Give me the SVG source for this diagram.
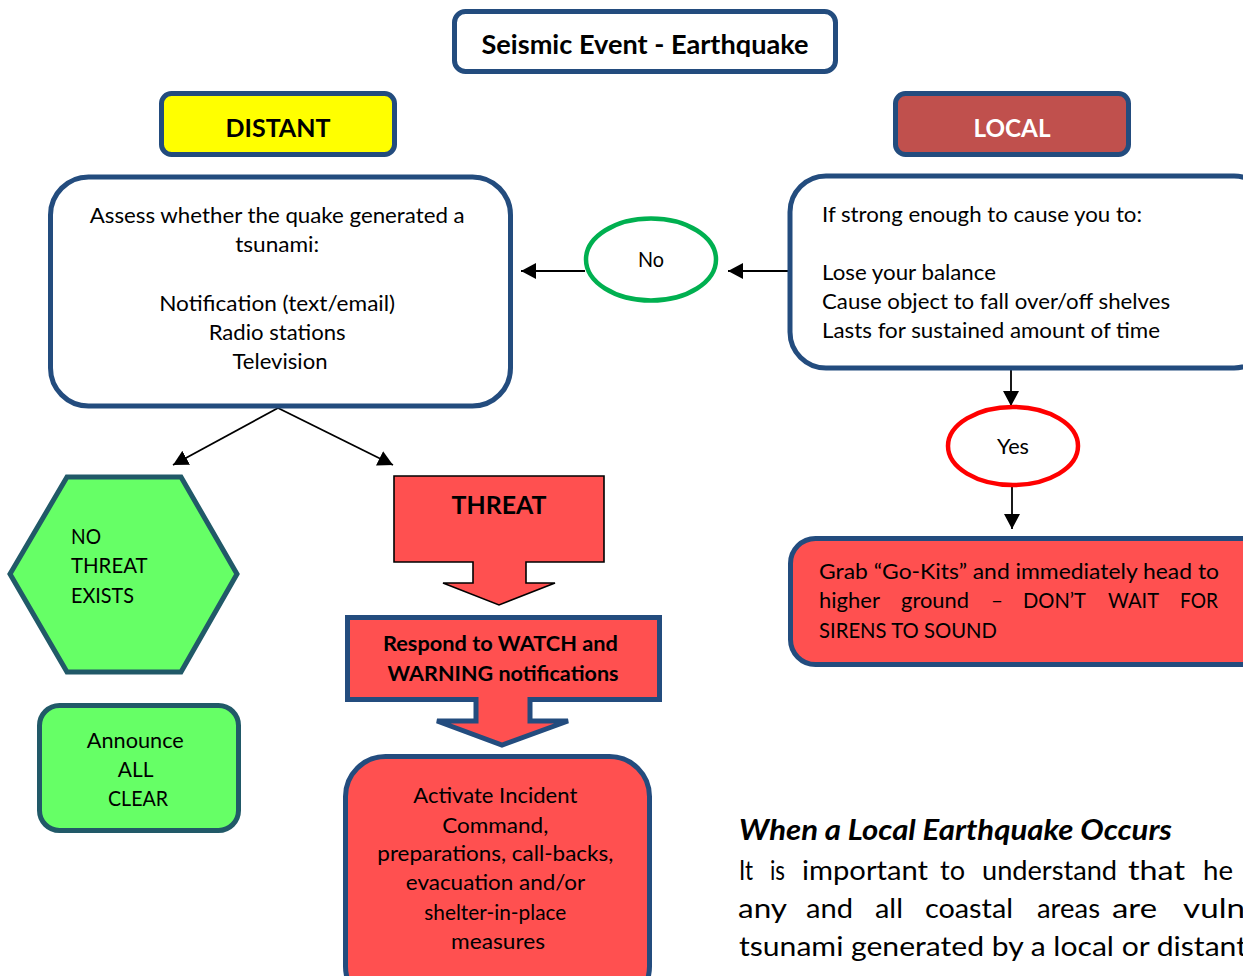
<svg xmlns="http://www.w3.org/2000/svg" width="1243" height="976" viewBox="0 0 1243 976">
<defs>
<style>
text{font-family:Lato,"Open Sans","Liberation Sans",sans-serif;fill:#000;}
.b{font-weight:bold;}
.c{text-anchor:middle;}
.blue{stroke:#234C7E;stroke-width:5;}
.red{fill:#FF5050;}
.grn{fill:#66FF66;stroke:#215968;stroke-width:5;}
.conn{stroke:#000;stroke-width:1.8;fill:none;}
</style>
<marker id="ah" viewBox="0 0 15 16" markerWidth="15" markerHeight="16" refX="15" refY="8" orient="auto" markerUnits="userSpaceOnUse">
<path d="M0,0 L15,8 L0,16 Z" fill="#000"/>
</marker>
<clipPath id="tclip"><rect x="454" y="11" width="382" height="46"/></clipPath>
</defs>
<rect width="1243" height="976" fill="#fff"/>

<g id="connectors">
<line class="conn" x1="585" y1="271" x2="521" y2="271" marker-end="url(#ah)"/>
<line class="conn" x1="788" y1="271" x2="728" y2="271" marker-end="url(#ah)"/>
<line class="conn" x1="1011" y1="369" x2="1011" y2="406" marker-end="url(#ah)"/>
<line class="conn" x1="1012" y1="487" x2="1012" y2="529" marker-end="url(#ah)"/>
<line class="conn" x1="278" y1="408" x2="173" y2="465" marker-end="url(#ah)"/>
<line class="conn" x1="278" y1="408" x2="393" y2="465" marker-end="url(#ah)"/>
</g>

<g id="title">
<rect x="454.5" y="11.5" width="381" height="60" rx="11" fill="#fff" class="blue"/>
<text x="645" y="54" class="b c" font-size="26" textLength="327" lengthAdjust="spacingAndGlyphs" clip-path="url(#tclip)">Seismic Event - Earthquake</text>
</g>

<g id="distant">
<rect x="161.5" y="93.5" width="233" height="61" rx="10" fill="#FFFF00" class="blue"/>
<text x="278" y="137" class="b c" font-size="25" textLength="105" lengthAdjust="spacingAndGlyphs">DISTANT</text>
</g>

<g id="local">
<rect x="895.5" y="93.5" width="233" height="61" rx="10" fill="#C0504D" class="blue"/>
<text x="1012" y="137" class="b c" font-size="25" style="fill:#fff" textLength="77" lengthAdjust="spacingAndGlyphs">LOCAL</text>
</g>

<g id="assess">
<rect x="50.5" y="177" width="460" height="229" rx="38" fill="#fff" class="blue"/>
<text class="c" font-size="22">
<tspan x="280" y="223" textLength="375" lengthAdjust="spacingAndGlyphs">Assess whether the quake generated a</tspan>
<tspan x="280" y="252" textLength="84" lengthAdjust="spacingAndGlyphs">tsunami:</tspan>
<tspan x="280" y="311" textLength="236" lengthAdjust="spacingAndGlyphs">Notification (text/email)</tspan>
<tspan x="280" y="340" textLength="137" lengthAdjust="spacingAndGlyphs">Radio stations</tspan>
<tspan x="280" y="369" textLength="95" lengthAdjust="spacingAndGlyphs">Television</tspan>
</text>
</g>

<g id="no">
<ellipse cx="651" cy="259.5" rx="65" ry="41" fill="#fff" stroke="#00B050" stroke-width="4.5"/>
<text x="651" y="267" class="c" font-size="21" textLength="26" lengthAdjust="spacingAndGlyphs">No</text>
</g>

<g id="strong">
<rect x="790" y="176" width="480" height="192" rx="36" fill="#fff" class="blue"/>
<text font-size="22">
<tspan x="822" y="222" textLength="320" lengthAdjust="spacingAndGlyphs">If strong enough to cause you to:</tspan>
<tspan x="822" y="280" textLength="174" lengthAdjust="spacingAndGlyphs">Lose your balance</tspan>
<tspan x="822" y="309" textLength="348" lengthAdjust="spacingAndGlyphs">Cause object to fall over/off shelves</tspan>
<tspan x="822" y="338" textLength="338" lengthAdjust="spacingAndGlyphs">Lasts for sustained amount of time</tspan>
</text>
</g>

<g id="yes">
<ellipse cx="1013" cy="446" rx="65" ry="39" fill="#fff" stroke="#FF0000" stroke-width="4.5"/>
<text x="1013" y="454" class="c" font-size="22" textLength="32" lengthAdjust="spacingAndGlyphs">Yes</text>
</g>

<g id="grab">
<rect x="790.5" y="538.5" width="480" height="126" rx="25" class="red blue"/>
<text font-size="22" lengthAdjust="spacingAndGlyphs">
<tspan x="819" y="579" textLength="400" lengthAdjust="spacingAndGlyphs">Grab “Go-Kits” and immediately head to</tspan>
<tspan x="819" y="608" textLength="61" lengthAdjust="spacingAndGlyphs">higher</tspan><tspan x="901" y="608" textLength="68" lengthAdjust="spacingAndGlyphs">ground</tspan><tspan x="991" y="608" textLength="12" lengthAdjust="spacingAndGlyphs">–</tspan><tspan x="1023" y="608" textLength="63" lengthAdjust="spacingAndGlyphs">DON’T</tspan><tspan x="1108" y="608" textLength="51" lengthAdjust="spacingAndGlyphs">WAIT</tspan><tspan x="1180" y="608" textLength="38" lengthAdjust="spacingAndGlyphs">FOR</tspan>
<tspan x="819" y="638" textLength="178" lengthAdjust="spacingAndGlyphs">SIRENS TO SOUND</tspan>
</text>
</g>

<g id="nothreat">
<polygon points="10,574 67,477 181,477 237,574 181,672 67,672" class="grn"/>
<text font-size="21">
<tspan x="71" y="544" textLength="30" lengthAdjust="spacingAndGlyphs">NO</tspan>
<tspan x="71" y="573" textLength="76" lengthAdjust="spacingAndGlyphs">THREAT</tspan>
<tspan x="71" y="603" textLength="63" lengthAdjust="spacingAndGlyphs">EXISTS</tspan>
</text>
</g>

<g id="allclear">
<rect x="39.5" y="705.5" width="199" height="125" rx="20" class="grn"/>
<text class="c" font-size="21">
<tspan x="138" y="748" textLength="97" lengthAdjust="spacingAndGlyphs">Announce</tspan>
<tspan x="138" y="777" textLength="35" lengthAdjust="spacingAndGlyphs">ALL</tspan>
<tspan x="138" y="806" textLength="60" lengthAdjust="spacingAndGlyphs">CLEAR</tspan>
</text>
</g>

<g id="threat">
<path d="M394,476 H604 V562 H526 V583 H555 L499,605 L443,583 H473 V562 H394 Z" class="red" stroke="#000" stroke-width="1.6"/>
<text x="499" y="514" class="b c" font-size="25" textLength="95" lengthAdjust="spacingAndGlyphs">THREAT</text>
</g>

<g id="respond">
<path d="M347.5,617.5 H659.5 V699.5 H530 V721 H568 L502,745 L437,721 H476 V699.5 H347.5 Z" class="red blue"/>
<text class="b c" font-size="21">
<tspan x="503" y="651" textLength="235" lengthAdjust="spacingAndGlyphs">Respond to WATCH and</tspan>
<tspan x="503" y="681" textLength="231" lengthAdjust="spacingAndGlyphs">WARNING notifications</tspan>
</text>
</g>

<g id="activate">
<rect x="345.5" y="756.5" width="304" height="250" rx="40" class="red blue"/>
<text class="c" font-size="21">
<tspan x="498" y="803" textLength="164" lengthAdjust="spacingAndGlyphs">Activate Incident</tspan>
<tspan x="498" y="833" textLength="106" lengthAdjust="spacingAndGlyphs">Command,</tspan>
<tspan x="498" y="861" textLength="236" lengthAdjust="spacingAndGlyphs">preparations, call-backs,</tspan>
<tspan x="498" y="890" textLength="179" lengthAdjust="spacingAndGlyphs">evacuation and/or</tspan>
<tspan x="498" y="920" textLength="142" lengthAdjust="spacingAndGlyphs">shelter-in-place</tspan>
<tspan x="498" y="949" textLength="94" lengthAdjust="spacingAndGlyphs">measures</tspan>
</text>
</g>

<g id="bodytext">
<text x="739" y="840" class="b" font-size="28" font-style="italic" textLength="433" lengthAdjust="spacingAndGlyphs">When a Local Earthquake Occurs</text>
<text font-size="26">
<tspan x="739" y="880" textLength="14" lengthAdjust="spacingAndGlyphs">It</tspan><tspan x="770" y="880" textLength="15" lengthAdjust="spacingAndGlyphs">is</tspan><tspan x="802" y="880" textLength="126" lengthAdjust="spacingAndGlyphs">important</tspan><tspan x="940" y="880" textLength="25" lengthAdjust="spacingAndGlyphs">to</tspan><tspan x="982" y="880" textLength="135" lengthAdjust="spacingAndGlyphs">understand</tspan><tspan x="1128" y="880" textLength="57" lengthAdjust="spacingAndGlyphs">that</tspan><tspan x="1203" y="880" textLength="30" lengthAdjust="spacingAndGlyphs">he</tspan>
<tspan x="738" y="918" textLength="49" lengthAdjust="spacingAndGlyphs">any</tspan><tspan x="806" y="918" textLength="47" lengthAdjust="spacingAndGlyphs">and</tspan><tspan x="875" y="918" textLength="28" lengthAdjust="spacingAndGlyphs">all</tspan><tspan x="925" y="918" textLength="88" lengthAdjust="spacingAndGlyphs">coastal</tspan><tspan x="1037" y="918" textLength="63" lengthAdjust="spacingAndGlyphs">areas</tspan><tspan x="1112" y="918" textLength="45" lengthAdjust="spacingAndGlyphs">are</tspan><tspan x="1183" y="918" textLength="62" lengthAdjust="spacingAndGlyphs">vuln</tspan>
</text>
<text x="739" y="956" font-size="26" textLength="508" lengthAdjust="spacingAndGlyphs">tsunami generated by a local or distant</text>
</g>
</svg>
